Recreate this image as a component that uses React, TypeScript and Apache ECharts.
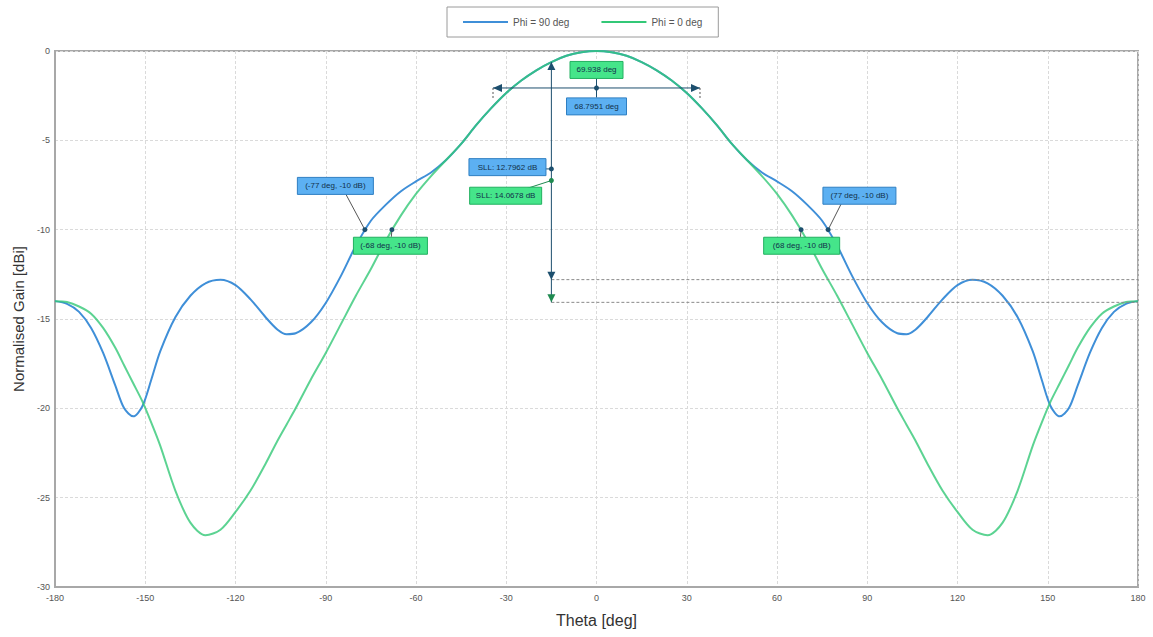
import React, { useEffect, useRef } from "react";
import * as echarts from "echarts";

const thetaDeg = [
  -180, -176, -172, -168, -164, -160, -157, -154, -151, -148, -145, -140, -135, -130, -125, -120, -115, -110, -106, -103, -100,
  -95, -90, -85, -80, -75, -70, -65, -60, -55, -50, -45, -40, -35, -30, -25, -20, -15, -10, -5,
  0, 5, 10, 15, 20, 25, 30, 35, 40, 45, 50, 55, 60, 65, 70, 75, 80, 85, 90, 95,
  100, 103, 106, 110, 115, 120, 125, 130, 135, 140, 145, 148, 151, 154, 157, 160, 164, 168, 172, 176, 180,
];

const gainPhi90 = [
  -14.0, -14.15, -14.6, -15.5, -16.9, -18.7, -20.0, -20.45, -19.9, -18.4, -16.8, -14.9, -13.7, -13.0, -12.8, -13.1, -13.9, -14.9, -15.6, -15.85, -15.8,
  -15.2, -14.1, -12.6, -10.9, -9.5, -8.6, -7.85, -7.3, -6.8, -6.1, -5.2, -4.15, -3.2, -2.35, -1.65, -1.08, -0.62, -0.27, -0.07,
  0, -0.07, -0.27, -0.62, -1.08, -1.65, -2.35, -3.2, -4.15, -5.2, -6.1, -6.8, -7.3, -7.85, -8.6, -9.5, -10.9, -12.6, -14.1, -15.2,
  -15.8, -15.85, -15.6, -14.9, -13.9, -13.1, -12.8, -13.0, -13.7, -14.9, -16.8, -18.4, -19.9, -20.45, -20.0, -18.7, -16.9, -15.5, -14.6, -14.15, -14.0,
];

const gainPhi0 = [
  -14.0, -14.05, -14.3, -14.7, -15.5, -16.6, -17.6, -18.6, -19.6, -20.8, -22.1, -24.6, -26.4, -27.1, -26.8, -25.8, -24.6, -23.1, -21.8, -20.9, -20.0,
  -18.4, -16.9, -15.3, -13.7, -12.2, -10.6, -9.2, -8.0, -7.0, -6.1, -5.2, -4.15, -3.2, -2.35, -1.65, -1.08, -0.62, -0.27, -0.07,
  0, -0.07, -0.27, -0.62, -1.08, -1.65, -2.35, -3.2, -4.15, -5.2, -6.1, -7.0, -8.0, -9.2, -10.6, -12.2, -13.7, -15.3, -16.9, -18.4,
  -20.0, -20.9, -21.8, -23.1, -24.6, -25.8, -26.8, -27.1, -26.4, -24.6, -22.1, -20.8, -19.6, -18.6, -17.6, -16.6, -15.5, -14.7, -14.3, -14.05, -14.0,
];

const seriesNames = ["Phi = 90 deg", "Phi = 0 deg"];
const seriesColors = ["#3f8fd8", "#33c877"];

// annotation boxes: text, centre (theta, gain), kind, width
const boxTexts = [
  "(-77 deg, -10 dB)",
  "(-68 deg, -10 dB)",
  "(77 deg, -10 dB)",
  "(68 deg, -10 dB)",
  "69.938 deg",
  "68.7951 deg",
  "SLL: 12.7962 dB",
  "SLL: 14.0678 dB",
];
const boxCentres = [
  [-86.8, -7.55],
  [-68.5, -10.9],
  [87.4, -8.1],
  [68.2, -10.9],
  [0, -1.06],
  [0, -3.1],
  [-29.6, -6.5],
  [-30.2, -8.1],
];
const boxKinds = ["b", "g", "b", "g", "g", "b", "b", "g"];
const boxWidths = [76, 74, 73, 76, 53, 60, 77, 72];

// -10 dB marker points (theta, gain) and leader start points
const markerPoints = [
  [-77, -10],
  [-68, -10],
  [77, -10],
  [68, -10],
];
const leaderStarts = [
  [-84, -7.8],
  [-68.2, -10.4],
  [81.5, -8.5],
  [67.8, -10.4],
];

const beamLevel = -2.07;
const beamEnds = [-34.4, 34.4];
const sllTheta = -15;
const sllTop = -0.62;
const sllLevels = [-12.7962, -14.0678];
const sllDots = [-6.6, -7.25];

export default function App() {
  const ref = useRef<HTMLDivElement>(null);
  useEffect(() => {
    if (!ref.current) return;
    const chart = echarts.init(ref.current, undefined, { renderer: "svg" });
    const font = "Liberation Sans, Arial, Helvetica, sans-serif";
    const axisCommon = {
      axisLine: { show: true, onZero: false, lineStyle: { color: "#a8a8a8", width: 2 } },
      axisTick: { show: false },
      axisLabel: { fontSize: 9, color: "#555", fontFamily: font },
      splitLine: { show: true, lineStyle: { color: "#dadada", type: [3, 2], width: 1 } },
    };
    chart.setOption({
      animation: false,
      backgroundColor: "#ffffff",
      textStyle: { fontFamily: font },
      legend: {
        data: seriesNames,
        left: 447,
        top: 7,
        padding: [10, 16],
        itemGap: 32,
        itemWidth: 45,
        itemHeight: 2,
        icon: "rect",
        borderColor: "#9a9a9a",
        borderWidth: 1,
        textStyle: { fontSize: 10, color: "#555", fontFamily: font },
      },
      grid: { left: 55, right: 15, top: 51, bottom: 50, show: true, borderColor: "#a8a8a8", borderWidth: 2 },
      xAxis: {
        type: "value",
        min: -180,
        max: 180,
        interval: 30,
        name: "Theta [deg]",
        nameLocation: "middle",
        nameGap: 25,
        nameTextStyle: { fontSize: 16, color: "#333", fontFamily: font },
        ...axisCommon,
        axisLabel: { ...axisCommon.axisLabel, margin: 6 },
      },
      yAxis: {
        type: "value",
        min: -30,
        max: 0,
        interval: 5,
        name: "Normalised Gain [dBi]",
        nameLocation: "middle",
        nameGap: 28,
        nameTextStyle: { fontSize: 15, color: "#333", fontFamily: font },
        ...axisCommon,
        axisLabel: { ...axisCommon.axisLabel, margin: 5 },
      },
      series: [
        {
          name: seriesNames[0],
          type: "line",
          data: thetaDeg.map((t, i) => [t, gainPhi90[i]]),
          showSymbol: false,
          smooth: 0.3,
          color: seriesColors[0],
          lineStyle: { width: 2, color: seriesColors[0] },
          z: 2,
        },
        {
          name: seriesNames[1],
          type: "line",
          data: thetaDeg.map((t, i) => [t, gainPhi0[i]]),
          showSymbol: false,
          smooth: 0.3,
          color: seriesColors[1],
          lineStyle: { width: 2, color: seriesColors[1], opacity: 0.8 },
          z: 3,
        },
      ],
    });

    const px = (p: number[]) => chart.convertToPixel({ gridIndex: 0 }, p) as number[];
    const dark = "#1d4f6e";
    const els: any[] = [];
    const line = (a: number[], b: number[], color: string, dash?: number[]) =>
      els.push({
        type: "line",
        z: 50,
        shape: { x1: a[0], y1: a[1], x2: b[0], y2: b[1] },
        style: { stroke: color, lineWidth: 1, lineDash: dash },
      });
    const tri = (p: number[], dir: string, color: string) => {
      const [x, y] = p;
      let pts: number[][] = [];
      if (dir === "up") pts = [[x, y], [x - 4, y + 8], [x + 4, y + 8]];
      if (dir === "down") pts = [[x, y], [x - 4, y - 8], [x + 4, y - 8]];
      if (dir === "left") pts = [[x, y], [x + 9, y - 4], [x + 9, y + 4]];
      if (dir === "right") pts = [[x, y], [x - 9, y - 4], [x - 9, y + 4]];
      els.push({ type: "polygon", z: 52, shape: { points: pts }, style: { fill: color } });
    };
    const dot = (p: number[], color: string) =>
      els.push({ type: "circle", z: 52, shape: { cx: p[0], cy: p[1], r: 2.5 }, style: { fill: color } });

    // SLL dashed levels
    sllLevels.forEach((lv) => line(px([sllTheta, lv]), px([180, lv]), "#8a8a8a", [3, 2]));
    // SLL vertical line
    line(px([sllTheta, sllTop]), px([sllTheta, sllLevels[1]]), dark);
    tri(px([sllTheta, sllTop]), "up", dark);
    tri(px([sllTheta, sllLevels[0]]), "down", dark);
    tri(px([sllTheta, sllLevels[1]]), "down", "#1f8a50");
    dot(px([sllTheta, sllDots[0]]), dark);
    dot(px([sllTheta, sllDots[1]]), "#1f8a50");

    // beamwidth arrow
    const bl = px([beamEnds[0], beamLevel]);
    const br = px([beamEnds[1], beamLevel]);
    line(bl, br, dark);
    tri(bl, "left", dark);
    tri(br, "right", dark);
    line(bl, [bl[0], bl[1] + 12], "#555", [2, 2]);
    line(br, [br[0], br[1] + 12], "#555", [2, 2]);
    const bc = px([0, beamLevel]);
    dot(bc, dark);

    // leaders and markers
    markerPoints.forEach((m, i) => {
      const a = px(leaderStarts[i]);
      const b = px(m);
      line(a, b, "#555");
      dot(b, dark);
    });

    // connectors for centre boxes & SLL boxes
    line(px([0, -1.5]), px([0, -2.6]), dark);
    line(px([-25.5, -6.6]), px([sllTheta, sllDots[0]]), dark);
    line(px([-26, -7.85]), px([sllTheta, sllDots[1]]), "#1f8a50");

    // boxes
    boxTexts.forEach((t, i) => {
      const c = px(boxCentres[i]);
      const w = boxWidths[i];
      const h = 17;
      const blue = boxKinds[i] === "b";
      els.push({
        type: "rect",
        z: 60,
        shape: { x: c[0] - w / 2, y: c[1] - h / 2, width: w, height: h },
        style: { fill: blue ? "#5cb0f2" : "#45e58a", stroke: blue ? "#2f7fc2" : "#22b060", lineWidth: 1 },
      });
      els.push({
        type: "text",
        z: 61,
        x: c[0],
        y: c[1],
        style: {
          text: t,
          fill: "#12304a",
          font: "8px " + font,
          align: "center",
          verticalAlign: "middle",
        },
      });
    });

    chart.setOption({ graphic: els });
    return () => chart.dispose();
  }, []);
  return <div ref={ref} style={{ position: "fixed", left: 0, top: 0, width: 1153, height: 637 }} />;
}
